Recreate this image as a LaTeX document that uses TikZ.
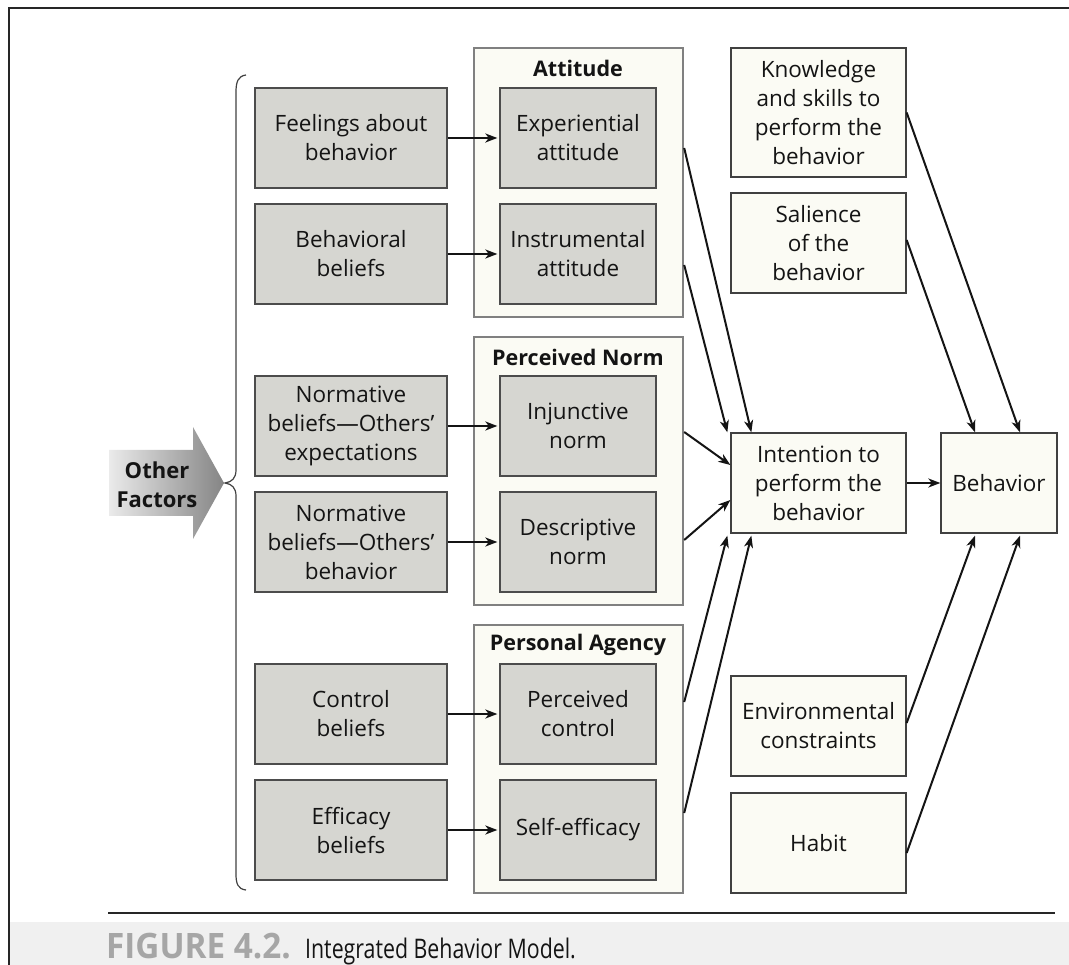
\documentclass[tikz,border=0pt]{standalone}
\usepackage{fontspec}
\setmainfont{Open Sans}
\usetikzlibrary{arrows.meta,calc}
\definecolor{boxgray}{HTML}{D6D6D1}
\definecolor{cream}{HTML}{FBFBF4}
\definecolor{ink}{HTML}{141414}
\begin{document}
\begin{tikzpicture}[x=1pt,y=-1pt,
  txt/.style={font=\fontsize{22.5}{29}\selectfont, text=ink, align=center},
  graybox/.style={txt, draw=black!70, line width=1.3pt, fill=boxgray, minimum width=192pt, minimum height=100pt, inner sep=0pt},
  innerbox/.style={graybox, minimum width=156pt},
  group/.style={draw=black!50, line width=2.4pt, fill=cream, minimum width=209pt, inner sep=0pt},
  whitebox/.style={txt, draw=black!75, line width=1.3pt, fill=cream, minimum width=175pt, minimum height=100pt, inner sep=0pt},
  arr/.style={-{Stealth[length=12pt,width=9pt,inset=3.5pt]}, line width=2pt, draw=ink},
  title/.style={font=\bfseries\fontsize{21.5}{29}\selectfont, text=ink}
]
\useasboundingbox (0,0) rectangle (1069,965);
% frame and caption band
\fill[black!6] (10,922) rectangle (1069,965);
\draw[line width=2pt, black!85] (1069,8) -- (9,8) -- (9,965);
\draw[line width=1.5pt, black!85] (108,913) -- (1055,913);
\node[anchor=base west, inner sep=0pt, font=\bfseries\fontsize{35}{35}\selectfont, text=black!35] (figlab) at (106,958) {\scalebox{0.95}[1]{FIGURE 4.2.}};
\node[anchor=base west, inner sep=0pt, font=\fontsize{27}{27}\selectfont, text=ink] (figcap) at ([xshift=14pt]figlab.base east) {\scalebox{0.79}[1]{Integrated Behavior Model.}};

% Other factors arrow
\shade[left color=black!8, right color=black!48] (109,450) -- (193,450) -- (193,427) -- (224,483) -- (193,539) -- (193,516) -- (109,516) -- cycle;
\node[font=\bfseries\fontsize{22}{29}\selectfont, text=ink, align=center] (other) at (157,485) {Other\\Factors};
% brace
\draw[line width=1.2pt, draw=black!75] (246,75) .. controls (238,76) and (236,82) .. (236,92) -- (236,470) .. controls (236,478) and (232,482) .. (225,483) .. controls (232,484) and (236,488) .. (236,496) -- (236,874) .. controls (236,884) and (238,889) .. (246,890);

% group boxes
\node[group, minimum height=269pt] (att) at (578.5,182.5) {};
\node[group, minimum height=268pt] (norm) at (578.5,471) {};
\node[group, minimum height=268pt] (agency) at (578.5,759) {};
\node[title] (attT) at (578,68) {Attitude};
\node[title] (normT) at (578,357) {Perceived Norm};
\node[title] (agencyT) at (578,645) {Personal Agency};

% left boxes
\node[graybox] (feel) at (351,138) {Feelings about\\behavior};
\node[graybox] (behb) at (351,254) {Behavioral\\beliefs};
\node[graybox] (nexp) at (351,426) {Normative\\beliefs—Others’\\expectations};
\node[graybox] (nbeh) at (351,542) {Normative\\beliefs—Others’\\behavior};
\node[graybox] (ctrl) at (351,714) {Control\\beliefs};
\node[graybox] (effb) at (351,830) {Efficacy\\beliefs};

% inner boxes
\node[innerbox] (exp) at (578,138) {Experiential\\attitude};
\node[innerbox] (ins) at (578,254) {Instrumental\\attitude};
\node[innerbox] (inj) at (578,426) {Injunctive\\norm};
\node[innerbox] (des) at (578,542) {Descriptive\\norm};
\node[innerbox] (pc) at (578,714) {Perceived\\control};
\node[innerbox] (se) at (578,830) {Self-efficacy};

% right column
\node[whitebox, minimum height=129pt] (know) at (818.5,112.5) {Knowledge\\and skills to\\perform the\\behavior};
\node[whitebox] (sal) at (818.5,243) {Salience\\of the\\behavior};
\node[whitebox] (int) at (818.5,483) {Intention to\\perform the\\behavior};
\node[whitebox] (env) at (818.5,726) {Environmental\\constraints};
\node[whitebox] (hab) at (818.5,843) {Habit};
\node[whitebox, minimum width=116pt] (beh) at (999,483) {Behavior};

% arrows left -> inner
\foreach \a/\b in {feel/exp, behb/ins, nexp/inj, nbeh/des, ctrl/pc, effb/se}
  \draw[arr, shorten >=2pt] (\a.east) -- (\b.west);

% inner -> intention
\draw[arr] ([yshift=-10pt]att.east |- exp.east) -- ([xshift=21pt]int.north west);
\draw[arr] ([yshift=-11pt]att.east |- ins.east) -- ([xshift=-3pt]int.north west);
\draw[arr] ([yshift=-6pt]norm.east |- inj.east) -- ([yshift=18pt]int.west);
\draw[arr] ([yshift=2pt]norm.east |- des.east) -- ([yshift=-17pt]int.west);
\draw[arr] ([yshift=12pt]agency.east |- pc.east) -- ([xshift=-3pt,yshift=-2pt]int.south west);
\draw[arr] ([yshift=17pt]agency.east |- se.east) -- ([xshift=21pt,yshift=-2pt]int.south west);

% to behavior
\draw[arr] (int.east) -- (beh.west);
\draw[arr] (know.east) -- ([xshift=21pt]beh.north);
\draw[arr] ([yshift=3pt]sal.east) -- ([xshift=-24pt]beh.north);
\draw[arr] ([yshift=3pt]env.east) -- ([xshift=-24pt,yshift=-2pt]beh.south);
\draw[arr] ([yshift=-10pt]hab.east) -- ([xshift=21pt,yshift=-2pt]beh.south);
\end{tikzpicture}
\end{document}
